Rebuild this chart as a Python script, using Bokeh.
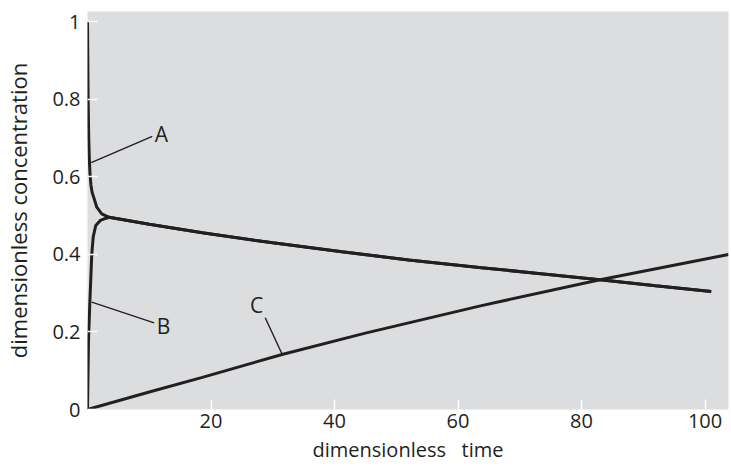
from bokeh.plotting import figure
from bokeh.models import Range1d, FixedTicker
from bokeh.core.properties import value
from bokeh.embed import file_html
from bokeh.resources import INLINE

# ---- data ----
# early transient of A (fast drop) and B (fast rise)
t_A_early = [0, 0.1, 0.2, 0.3, 0.4, 0.55, 0.75, 1.0, 1.5, 2.3, 3.5]
A_early = [1.0, 0.80, 0.70, 0.645, 0.61, 0.58, 0.56, 0.548, 0.522, 0.505, 0.496]
t_B_early = [0, 0.16, 0.37, 0.69, 0.92, 1.34, 2.1, 2.9, 3.5]
B_early = [0, 0.178, 0.273, 0.40, 0.445, 0.475, 0.488, 0.493, 0.496]
# slow common decay of A and B (curves coincide)
t_late = [3.5, 10, 18.6, 30, 41.2, 52, 63.8, 73, 83, 92, 101]
AB_late = [0.496, 0.478, 0.456, 0.430, 0.407, 0.386, 0.366, 0.351, 0.335, 0.3195, 0.3045]
# product C
t_C = [0, 10, 18.6, 31.5, 45, 63.8, 83, 103.8]
C = [0, 0.045, 0.083, 0.142, 0.197, 0.268, 0.335, 0.40]

# curve labels and their leader lines
label_text = ["A", "B", "C"]
label_t = [10.9, 11.2, 26.3]
label_y = [0.712, 0.2155, 0.270]
leader_t0 = [0.6, 0.69, 28.78]
leader_y0 = [0.637, 0.277, 0.2366]
leader_t1 = [10.49, 10.8, 31.48]
leader_y1 = [0.7045, 0.2237, 0.1437]

x_ticks = [20, 40, 60, 80, 100]
y_ticks = [0, 0.2, 0.4, 0.6, 0.8, 1]
y_tick_labels = ["0", "0.2", "0.4", "0.6", "0.8", "1"]
x_title = "dimensionless\u00a0\u00a0 time"
y_title = "dimensionless concentration"

INK = "#231f20"
FONT = "Open Sans"

p = figure(width=731, height=466, output_backend="svg", toolbar_location=None,
           x_range=Range1d(0, 103.8), y_range=Range1d(0, 1.027),
           min_border_left=85, min_border_right=3, min_border_top=11, min_border_bottom=57)
p.background_fill_color = "#dcdddf"
p.border_fill_color = "white"
p.outline_line_color = None
p.grid.visible = False

t_A = t_A_early + t_late[1:]
A = A_early + AB_late[1:]
t_B = t_B_early + t_late[1:]
B = B_early + AB_late[1:]

p.line(t_A, A, line_color=INK, line_width=3)
p.line(t_B, B, line_color=INK, line_width=3)
p.line(t_C, C, line_color=INK, line_width=3)

p.segment(x0=leader_t0, y0=leader_y0, x1=leader_t1, y1=leader_y1,
          line_color=INK, line_width=1.4)
p.text(x=label_t, y=label_y, text=label_text, text_font=value(FONT),
       text_font_size=value("21px"), text_color=INK,
       text_align="left", text_baseline="middle")

for ax in (p.xaxis[0], p.yaxis[0]):
    ax.axis_line_color = None
    ax.major_tick_line_color = "white"
    ax.major_tick_line_width = 1.5
    ax.major_tick_in = 10
    ax.major_tick_out = 0
    ax.minor_tick_line_color = None
    ax.major_label_text_font = FONT
    ax.major_label_text_font_size = "20px"
    ax.major_label_text_color = INK
    ax.axis_label_text_font = FONT
    ax.axis_label_text_font_style = "normal"
    ax.axis_label_text_color = INK

p.xaxis.ticker = FixedTicker(ticks=x_ticks)
p.yaxis.ticker = FixedTicker(ticks=y_ticks)
p.yaxis.major_label_overrides = {t: s for t, s in zip(y_ticks, y_tick_labels)}
p.xaxis.axis_label = x_title
p.yaxis.axis_label = y_title
p.xaxis.axis_label_text_font_size = "20px"
p.yaxis.axis_label_text_font_size = "22px"
p.xaxis.major_label_standoff = 4
p.yaxis.major_label_standoff = 7
p.xaxis.axis_label_standoff = 5
p.yaxis.axis_label_standoff = 16

open("out.html", "w").write(file_html(p, INLINE))
